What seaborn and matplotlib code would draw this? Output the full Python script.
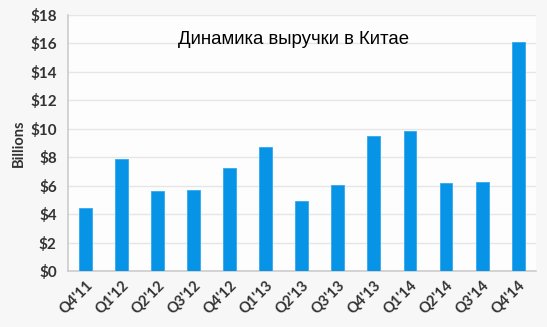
import matplotlib
matplotlib.use("Agg")
import matplotlib.pyplot as plt
import seaborn as sns
import pandas as pd

quarters = ["Q4'11", "Q1'12", "Q2'12", "Q3'12", "Q4'12", "Q1'13", "Q2'13",
            "Q3'13", "Q4'13", "Q1'14", "Q2'14", "Q3'14", "Q4'14"]
revenue = [4.43, 7.88, 5.63, 5.70, 7.24, 8.72, 4.92, 6.05, 9.49, 9.85, 6.19, 6.26, 16.1]
yticks = [0, 2, 4, 6, 8, 10, 12, 14, 16, 18]
title = "Динамика выручки в Китае"

df = pd.DataFrame({"q": quarters, "v": revenue})

sns.set_theme(style="white")
plt.rcParams['font.family'] = ['Lato', 'DejaVu Sans']

fig = plt.figure(figsize=(5.47, 3.27), dpi=100, facecolor="#f7f7f7")
ax = fig.add_axes([0.124, 0.171, 0.856, 0.783])
ax.set_facecolor("#fdfdfd")

sns.barplot(data=df, x="q", y="v", color="#0793e6", width=0.36, ax=ax,
            saturation=1, zorder=3, edgecolor="#33aaf0", linewidth=0.6)

ax.set_ylim(0, 18)
ax.set_yticks(yticks)
ax.set_yticklabels([f"${t}" for t in yticks], fontsize=11, fontweight="bold", color="#333333")
ax.set_xlim(-0.5, len(quarters) - 0.5)
ax.set_xticks(range(len(quarters)))
ax.set_xticklabels(quarters, rotation=45, ha="right", rotation_mode="anchor",
                   fontsize=10.5, fontweight="bold", color="#333333")
ax.tick_params(axis="y", length=0, pad=8)
ax.tick_params(axis="x", length=0, pad=5)
ax.grid(axis="y", color="#e6e6e6", linewidth=1, zorder=0)
ax.set_axisbelow(True)
ax.set_xlabel("")
ax.set_ylabel("Billions", fontsize=10.5, fontweight="bold", color="#333333", labelpad=3)

for s in ["top", "right"]:
    ax.spines[s].set_visible(False)
for s in ["left", "bottom"]:
    ax.spines[s].set_color("#cccccc")
    ax.spines[s].set_linewidth(1.2)

ax.text(0.482, 0.905, title, transform=ax.transAxes, ha="center", va="center",
        fontsize=13.4, color="black", family=["Liberation Sans", "DejaVu Sans"])

fig.savefig("out.png", dpi=100, facecolor=fig.get_facecolor())
